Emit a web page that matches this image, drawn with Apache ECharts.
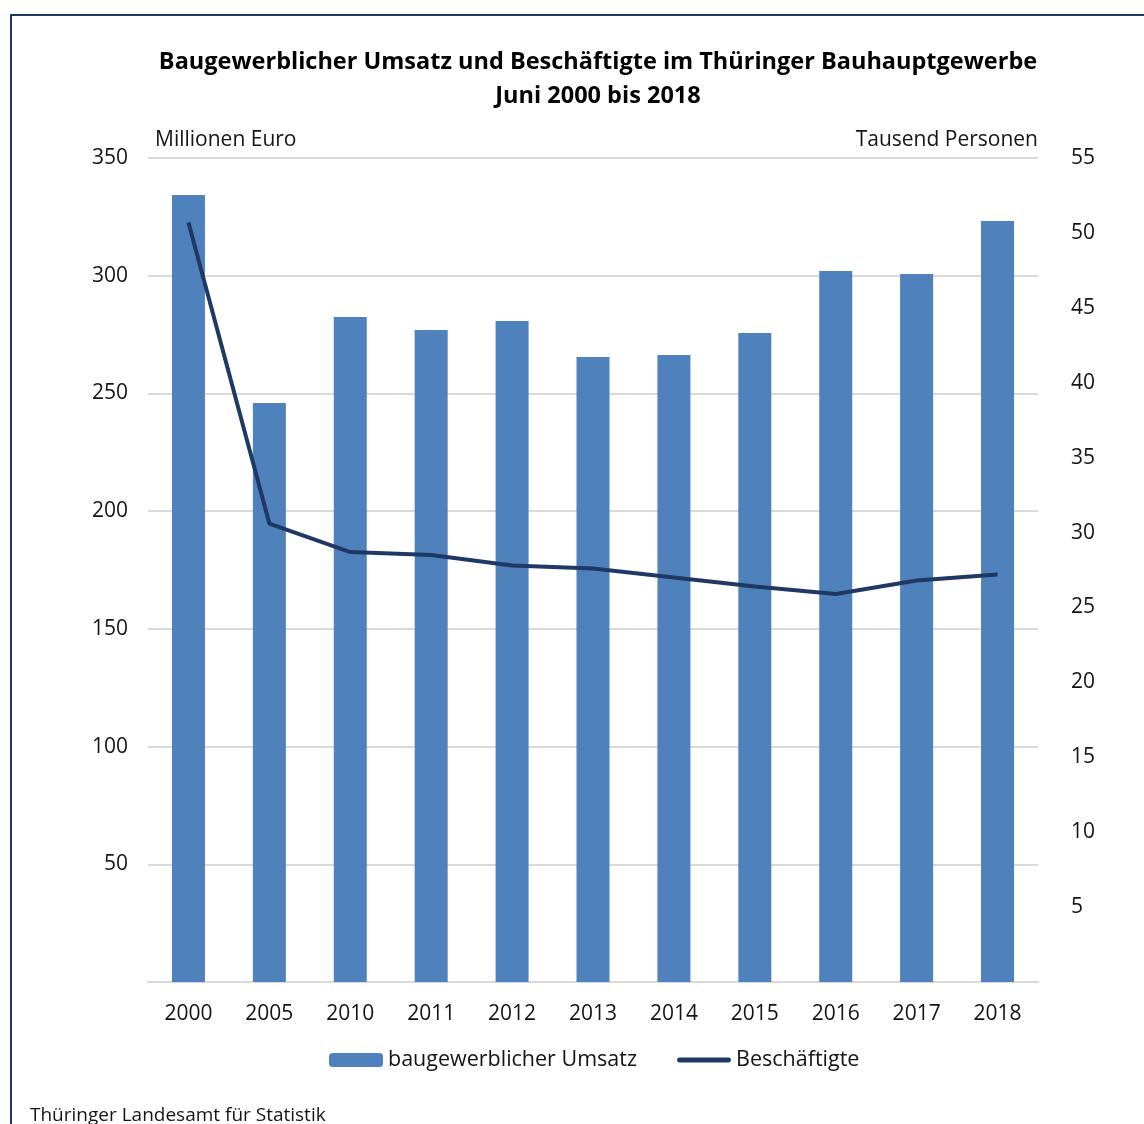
<!DOCTYPE html>
<html>
<head>
<meta charset="utf-8">
<script src="https://cdn.jsdelivr.net/npm/echarts@6/dist/echarts.min.js"></script>
<style>
  html, body { margin: 0; padding: 0; background: #fff; }
  #chart { width: 1144px; height: 1124px; }
</style>
</head>
<body>
<div id="chart"></div>
<script>
// Jahre (Juni)
var years = ['2000', '2005', '2010', '2011', '2012', '2013', '2014', '2015', '2016', '2017', '2018'];
// baugewerblicher Umsatz, Millionen Euro
var umsatz = [334.3, 245.9, 282.5, 276.9, 280.8, 265.5, 266.3, 275.7, 302.0, 300.7, 323.2];
// Beschaeftigte, Tausend Personen
var beschaeftigte = [50.7, 30.6, 28.7, 28.5, 27.8, 27.6, 27.0, 26.4, 25.9, 26.8, 27.2];

var font = 'Open Sans';
var txt = '#141414';
var chart = echarts.init(document.getElementById('chart'));

var option = {
  backgroundColor: '#fff',
  textStyle: { fontFamily: font },
  title: {
    text: 'Baugewerblicher Umsatz und Beschäftigte im Thüringer Bauhauptgewerbe\nJuni 2000 bis 2018',
    left: 593,
    top: 40,
    textAlign: 'center',
    textStyle: { fontFamily: font, fontSize: 23.5, fontWeight: 'bold', color: '#000', lineHeight: 34 }
  },
  legend: {
    bottom: 48,
    left: 324,
    itemWidth: 54,
    itemHeight: 14,
    itemGap: 40,
    textStyle: { fontFamily: font, fontSize: 21.5, color: txt },
    data: [
      { name: 'baugewerblicher Umsatz' },
      { name: 'Beschäftigte', icon: 'path://M2.5,0 L53.5,0 A2.5,2.5 0 0 1 53.5,5 L2.5,5 A2.5,2.5 0 0 1 2.5,0 Z' }
    ]
  },
  grid: { left: 148, right: 106, top: 158, bottom: 142 },
  xAxis: {
    type: 'category',
    data: years,
    axisLine: { lineStyle: { color: '#d9d9d9', width: 2 } },
    axisTick: { show: false },
    axisLabel: { margin: 22, fontSize: 21, color: txt, fontFamily: font }
  },
  yAxis: [{
    type: 'value',
    min: 0,
    max: 350,
    interval: 50,
    name: 'Millionen Euro',
    nameLocation: 'end',
    nameGap: 7,
    nameTextStyle: { align: 'left', fontSize: 21, color: txt, fontFamily: font, padding: [0, 0, 0, 7] },
    axisLine: { show: false },
    axisTick: { show: false },
    splitLine: { lineStyle: { color: '#d9d9d9', width: 2 } },
    axisLabel: {
      margin: 20, fontSize: 21, color: txt, fontFamily: font,
      formatter: function (v) { return v === 0 ? '' : v; }
    }
  }, {
    type: 'value',
    min: 0,
    max: 55,
    interval: 5,
    name: 'Tausend Personen',
    nameLocation: 'end',
    nameGap: 7,
    nameTextStyle: { align: 'right', fontSize: 21, color: txt, fontFamily: font },
    axisLine: { show: false },
    axisTick: { show: false },
    splitLine: { show: false },
    axisLabel: {
      margin: 33, fontSize: 21, color: txt, fontFamily: font, align: 'left',
      formatter: function (v) { return v === 0 ? '' : v; }
    }
  }],
  series: [{
    name: 'baugewerblicher Umsatz',
    type: 'bar',
    yAxisIndex: 0,
    barWidth: 33,
    itemStyle: { color: '#4f81bd' },
    data: umsatz
  }, {
    name: 'Beschäftigte',
    type: 'line',
    yAxisIndex: 1,
    symbol: 'none',
    lineStyle: { color: '#1f3864', width: 4 },
    itemStyle: { color: '#1f3864' },
    data: beschaeftigte
  }],
  graphic: [{
    type: 'polyline',
    shape: { points: [[11, 1124], [11, 15], [1144, 15]] },
    style: { stroke: '#1f3864', lineWidth: 2, fill: null }
  }, {
    type: 'text',
    left: 30,
    top: 1106,
    style: { text: 'Thüringer Landesamt für Statistik', fontSize: 19, fill: txt, fontFamily: font }
  }]
};

chart.setOption(option);
</script>
</body>
</html>
